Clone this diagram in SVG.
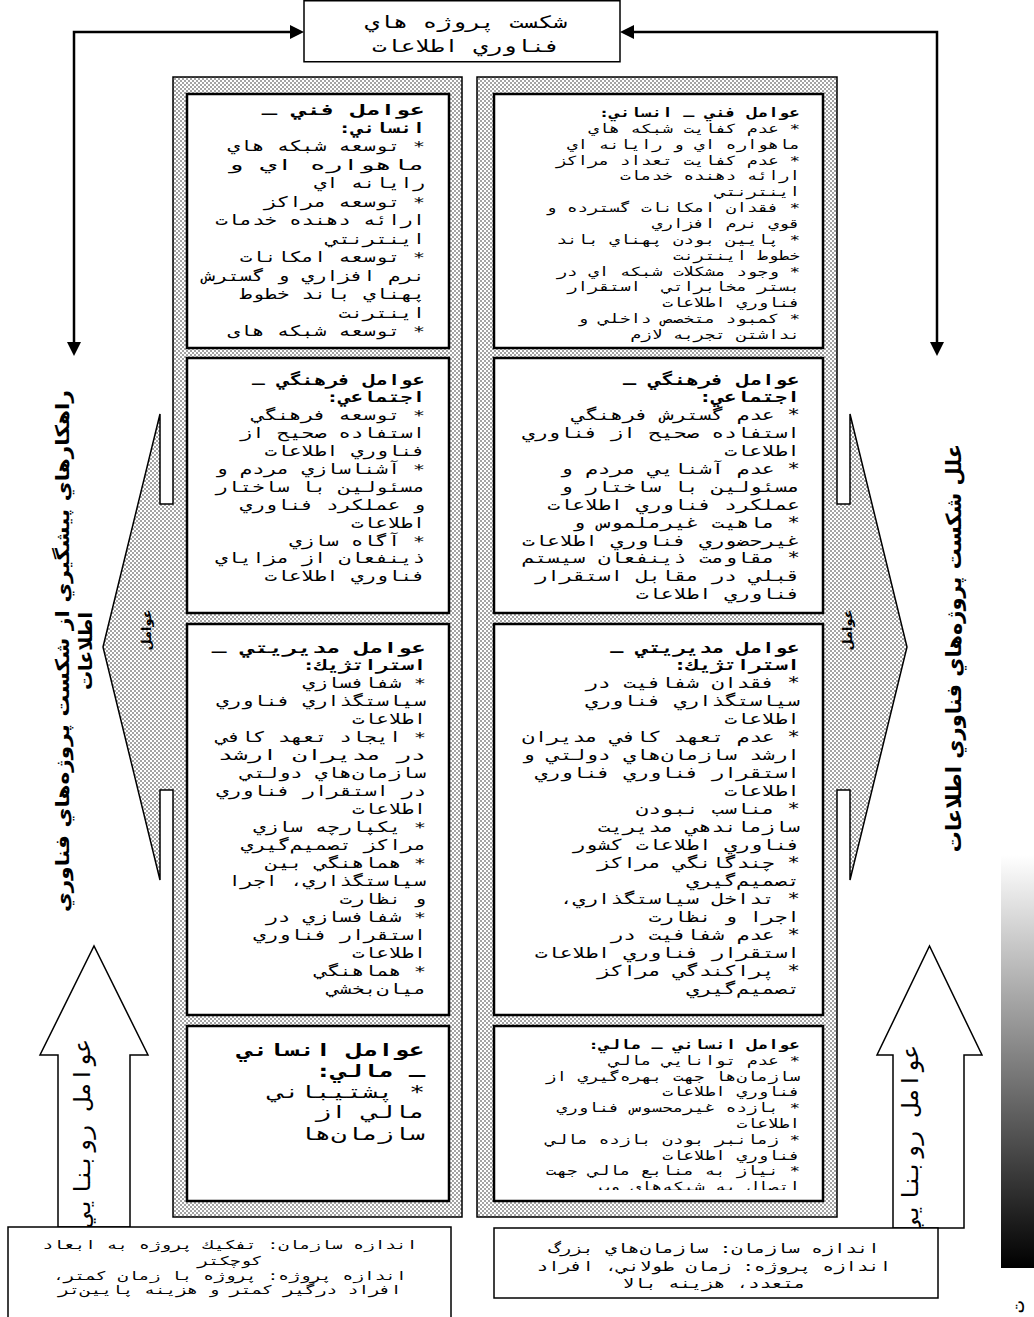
<svg xmlns="http://www.w3.org/2000/svg" width="1034" height="1317" viewBox="0 0 1034 1317">
<defs>
<pattern id="dots" width="4" height="4" patternUnits="userSpaceOnUse"><rect width="4" height="4" fill="#fff"/><circle cx="1" cy="1" r="0.7" fill="#000"/><circle cx="3" cy="3" r="0.7" fill="#000"/></pattern>
<marker id="ah" viewBox="0 0 14 14" refX="0" refY="7" markerWidth="14" markerHeight="14" markerUnits="userSpaceOnUse" orient="auto-start-reverse"><path d="M0,0 L14,7 L0,14 z" fill="#000"/></marker>
<linearGradient id="grad" x1="0" y1="0" x2="0" y2="1"><stop offset="0" stop-color="#fff"/><stop offset="1" stop-color="#000"/></linearGradient>
<clipPath id="clipL2" clipPathUnits="userSpaceOnUse"><rect x="130" y="560" width="28" height="150"/></clipPath>
<clipPath id="clipR2" clipPathUnits="userSpaceOnUse"><rect x="840" y="560" width="20" height="150"/></clipPath>
<clipPath id="clipRB4" clipPathUnits="userSpaceOnUse"><rect x="494" y="1027" width="329" height="163"/></clipPath>
</defs>
<style>
.m{font-family:"DejaVu Sans Mono","DejaVu Sans","Noto Sans",monospace;direction:rtl;fill:#000}
.p{font-family:"DejaVu Sans","Liberation Sans",sans-serif;direction:rtl;font-weight:bold;fill:#000}
.bd{font-weight:bold}
.r{text-anchor:start}
.c{text-anchor:middle}
.s17{font-size:17.6px}
.s18{font-size:17.8px}
.s19{font-size:19px}
.s20{font-size:20.5px}
.s21{font-size:21px}
.s23{font-size:23px}
.s24{font-size:24px}
.s26{font-size:26px}
.frame{fill:url(#dots);stroke:#000;stroke-width:1.5}
.box{fill:#fff;stroke:#000;stroke-width:2.5}
.plain{fill:#fff;stroke:#000;stroke-width:1.5}
.conn{fill:none;stroke:#000;stroke-width:2.5}
</style>
<rect width="1034" height="1317" fill="#fff"/>

<g id="connectors">
<path class="conn" d="M74,342 V32 H290" marker-start="url(#ah)" marker-end="url(#ah)"/>
<path class="conn" d="M937,342 V32 H634" marker-start="url(#ah)" marker-end="url(#ah)"/>
</g>

<g id="top-box">
<rect class="plain" x="304" y="0.75" width="316" height="61"/>
<g class="m c s24" transform="translate(0,28) scale(1,0.72)">
<text x="466" y="0">شكست پروژه هاي</text>
<text x="466" y="33.33">فناوري اطلاعات</text>
</g>
</g>

<g id="left-column">
<path class="frame" d="M173,77 H462 V1217 H173 V790 H160 V880 L103,647 L160,414 V504 H173 Z"/>
<text class="p c" style="font-size:13px" transform="translate(151,630) rotate(-90)">عوامل</text>
<g clip-path="url(#clipL2)"><text class="p c" style="font-size:13px" transform="translate(165,630) rotate(-90)">دروني</text></g>
</g>

<g id="right-column">
<path class="frame" d="M477,77 H837 V504 H850 V414 L907,647 L850,880 V790 H837 V1217 H477 Z"/>
<text class="p c" style="font-size:13px" transform="translate(852,630) rotate(-90)">عوامل</text>
<g clip-path="url(#clipR2)"><text class="p c" style="font-size:13px" transform="translate(866,630) rotate(-90)">دروني</text></g>
</g>

<g id="left-box-1">
<rect class="box" x="187" y="94" width="262" height="254"/>
<g class="m r s20" transform="translate(0,114.5) scale(1,0.72)">
<text class="bd" x="425" y="0" textLength="163" lengthAdjust="spacingAndGlyphs">عوامل فني ـ</text>
<text class="bd" x="425" y="25.69">انساني:</text>
<text x="425" y="51.39">* توسعه شبكه هاي</text>
<text x="425" y="77.08" textLength="198" lengthAdjust="spacingAndGlyphs">ماهواره اي و</text>
<text x="425" y="102.78">رايانه اي</text>
<text x="425" y="128.47">* توسعه مراكز</text>
<text x="425" y="154.17">ارائه دهنده خدمات</text>
<text x="425" y="179.86">اينترنتي</text>
<text x="425" y="205.56">* توسعه امكانات</text>
<text x="425" y="231.25">نرم افزاري و گسترش</text>
<text x="425" y="256.94">پهناي باند خطوط</text>
<text x="425" y="282.64">اينترنت</text>
<text x="425" y="308.33">* توسعه شبكه هاى</text>
</g>
</g>

<g id="left-box-2">
<rect class="box" x="187" y="358" width="262" height="255"/>
<g class="m r s20" transform="translate(0,384.5) scale(1,0.72)">
<text class="bd" x="425" y="0">عوامل فرهنگي ـ</text>
<text class="bd" x="425" y="24.86">اجتماعي:</text>
<text x="425" y="49.72">* توسعه فرهنگي</text>
<text x="425" y="74.58">استفاده صحيح از</text>
<text x="425" y="99.44">فناوري اطلاعات</text>
<text x="425" y="124.31">* آشناسازي مردم و</text>
<text x="425" y="149.17">مسئولين با ساختار</text>
<text x="425" y="174.03">و عملكرد فناوري</text>
<text x="425" y="198.89">اطلاعات</text>
<text x="425" y="223.75">* آگاه سازي</text>
<text x="425" y="248.61">ذينفعان از مزاياي</text>
<text x="425" y="273.47">فناوري اطلاعات</text>
</g>
</g>

<g id="left-box-3">
<rect class="box" x="187" y="624" width="262" height="391"/>
<g class="m r s20" transform="translate(0,652.5) scale(1,0.72)">
<text class="bd" x="426" y="0" textLength="214" lengthAdjust="spacingAndGlyphs">عوامل مديريتي ـ</text>
<text class="bd" x="426" y="25">استراتژيك:</text>
<text x="426" y="50">* شفافسازي</text>
<text x="426" y="75">سياستگذاري فناوري</text>
<text x="426" y="100">اطلاعات</text>
<text x="426" y="125">* ايجاد تعهد كافي</text>
<text x="426" y="150" textLength="208" lengthAdjust="spacingAndGlyphs">در مديران ارشد</text>
<text x="426" y="175">سازمان‌هاي دولتي</text>
<text x="426" y="200">در استقرار فناوري</text>
<text x="426" y="225">اطلاعات</text>
<text x="426" y="250">* يكپارچه سازي</text>
<text x="426" y="275">مراكز تصميم‌گيري</text>
<text x="426" y="300">* هماهنگي بين</text>
<text x="426" y="325">سياستگذاري، اجرا</text>
<text x="426" y="350">و نظارت</text>
<text x="426" y="375">* شفافسازي در</text>
<text x="426" y="400">استقرار فناوري</text>
<text x="426" y="425">اطلاعات</text>
<text x="426" y="450">* هماهنگي</text>
<text x="426" y="475">ميان‌بخشي</text>
</g>
</g>

<g id="left-box-4">
<rect class="box" x="187" y="1026" width="262" height="175"/>
<g class="m r s26" transform="translate(0,1055.5) scale(1,0.68)">
<text class="bd" x="425" y="0">عوامل انساني</text>
<text class="bd" x="425" y="32.35">ـ مالي:</text>
<text x="425" y="63.24">* پشتيباني</text>
<text x="425" y="92.65">مالي از</text>
<text x="425" y="125">سازمان‌ها</text>
</g>
</g>

<g id="right-box-1">
<rect class="box" x="494" y="94" width="329" height="254"/>
<g class="m r s17" transform="translate(0,117) scale(1,0.72)">
<text class="bd" x="800" y="0">عوامل فني ـ انساني:</text>
<text x="800" y="22.03">* عدم كفايت شبكه هاي</text>
<text x="800" y="44.06">ماهواره اي و رايانه اي</text>
<text x="800" y="66.08">* عدم كفايت تعداد مراكز</text>
<text x="800" y="88.11">ارائه دهنده خدمات</text>
<text x="800" y="110.14">اينترنتي</text>
<text x="800" y="132.17">* فقدان امكانات گسترده و</text>
<text x="800" y="154.19">قوي نرم افزاري</text>
<text x="800" y="176.22">* پايين بودن پهناي باند</text>
<text x="800" y="198.25">خطوط اينترنت</text>
<text x="800" y="220.28">* وجود مشكلات شبكه اي در</text>
<text x="800" y="242.31" xml:space="preserve">بستر مخابراتي  استقرار</text>
<text x="800" y="264.33">فناوري اطلاعات</text>
<text x="800" y="286.36">* كمبود متخصص داخلي و</text>
<text x="800" y="308.39">نداشتن تجربه لازم</text>
</g>
</g>

<g id="right-box-2">
<rect class="box" x="494" y="358" width="329" height="255"/>
<g class="m r s21" transform="translate(0,384.5) scale(1,0.72)">
<text class="bd" x="800" y="0">عوامل فرهنگي ـ</text>
<text class="bd" x="800" y="24.86">اجتماعي:</text>
<text x="800" y="49.72">* عدم گسترش فرهنگي</text>
<text x="800" y="74.58">استفاده صحيح از فناوري</text>
<text x="800" y="99.44">اطلاعات</text>
<text x="800" y="124.31">* عدم آشنايي مردم و</text>
<text x="800" y="149.17">مسئولين با ساختار و</text>
<text x="800" y="174.03">عملكرد فناوري اطلاعات</text>
<text x="800" y="198.89">* ماهيت غيرملموس و</text>
<text x="800" y="223.75">غيرحضوري فناوري اطلاعات</text>
<text x="800" y="248.61">* مقاومت ذينفعان سيستم</text>
<text x="800" y="273.47">قبلي در مقابل استقرار</text>
<text x="800" y="298.33">فناوري اطلاعات</text>
</g>
</g>

<g id="right-box-3">
<rect class="box" x="494" y="624" width="329" height="391"/>
<g class="m r s21" transform="translate(0,652.5) scale(1,0.72)">
<text class="bd" x="800" y="0">عوامل مديريتي ـ</text>
<text class="bd" x="800" y="25">استراتژيك:</text>
<text x="800" y="50">* فقدان شفافيت در</text>
<text x="800" y="75">سياستگذاري فناوري</text>
<text x="800" y="100">اطلاعات</text>
<text x="800" y="125">* عدم تعهد كافي مديران</text>
<text x="800" y="150">ارشد سازمان‌هاي دولتي و</text>
<text x="800" y="175">استقرار فناوري فناوري</text>
<text x="800" y="200">اطلاعات</text>
<text x="800" y="225">* مناسب نبودن</text>
<text x="800" y="250">سازماندهي مديريت</text>
<text x="800" y="275">فناوري اطلاعات كشور</text>
<text x="800" y="300">* چندگانگي مراكز</text>
<text x="800" y="325">تصميم‌گيري</text>
<text x="800" y="350">* تداخل سياستگذاري،</text>
<text x="800" y="375">اجرا و نظارت</text>
<text x="800" y="400">* عدم شفافيت در</text>
<text x="800" y="425">استقرار فناوري اطلاعات</text>
<text x="800" y="450">* پراكندگي مراكز</text>
<text x="800" y="475">تصميم‌گيري</text>
</g>
</g>

<g id="right-box-4">
<rect class="box" x="494" y="1026" width="329" height="175"/>
<g clip-path="url(#clipRB4)">
<g class="m r s17" transform="translate(0,1049) scale(1,0.72)">
<text class="bd" x="800" y="0">عوامل انساني ـ مالي:</text>
<text x="800" y="21.94">* عدم توانايي مالي</text>
<text x="800" y="43.89">سازمان‌ها جهت بهره‌گيري از</text>
<text x="800" y="65.83">فناوري اطلاعات</text>
<text x="800" y="87.78">* بازده غيرمحسوس فناوري</text>
<text x="800" y="109.72">اطلاعات</text>
<text x="800" y="131.67">* زمانبر بودن بازده مالي</text>
<text x="800" y="153.61">فناوري اطلاعات</text>
<text x="800" y="175.56">* نياز به منابع مالي جهت</text>
<text x="800" y="197.5">اتصال به شبكه‌هاي وب</text>
</g>
</g>
</g>

<g id="left-title">
<text class="p c s19" transform="translate(69,651) rotate(-90)" textLength="522" lengthAdjust="spacingAndGlyphs">راهكارهاي پيشگيري از شكست پروژه‌هاي فناوري</text>
<text class="p c s19" transform="translate(92,651) rotate(-90)">اطلاعات</text>
</g>

<g id="right-title">
<text class="p c s21" transform="translate(961,648) rotate(-90)">علل شكست پروژه‌هاي فناوري اطلاعات</text>
</g>

<g id="left-up-arrow">
<path class="plain" d="M58,1227 V1055 H40 L94,946 L148,1055 H130 V1227 Z"/>
<text class="m c s23" transform="translate(90,1132) rotate(-90)" textLength="187" lengthAdjust="spacingAndGlyphs">عوامل روبنايي</text>
</g>

<g id="right-up-arrow">
<path class="plain" d="M893,1228 V1055 H877 L929.5,946 L982,1055 H964 V1228 Z"/>
<text class="m c s23" transform="translate(918,1138) rotate(-90)" textLength="187" lengthAdjust="spacingAndGlyphs">عوامل روبنايي</text>
</g>

<g id="bottom-left-box">
<rect class="plain" x="8" y="1227" width="443" height="100"/>
<g class="m c s18" transform="translate(0,1249) scale(1,0.68)">
<text x="230" y="0">اندازه سازمان: تفكيك پروژه به ابعاد</text>
<text x="230" y="23.53">كوچكتر</text>
<text x="230" y="45.59">اندازه پروژه: پروژه با زمان كمتر،</text>
<text x="230" y="66.18">افراد درگير كمتر و هزينه پايين‌تر</text>
</g>
</g>

<g id="bottom-right-box">
<rect class="plain" x="494" y="1228" width="444" height="70"/>
<g class="m c s19" transform="translate(0,1253) scale(1,0.72)">
<text x="714" y="0">اندازه سازمان: سازمان‌هاي بزرگ</text>
<text x="714" y="25">اندازه پروژه: زمان طولاني، افراد</text>
<text x="714" y="48.61">متعدد، هزينه بالا</text>
</g>
</g>

<g id="gradient-bar">
<rect x="1001" y="855" width="33" height="413" fill="url(#grad)"/>
<text class="m c" style="font-size:20px" transform="translate(1024,1307) rotate(-90)">ت</text>
</g>
</svg>
